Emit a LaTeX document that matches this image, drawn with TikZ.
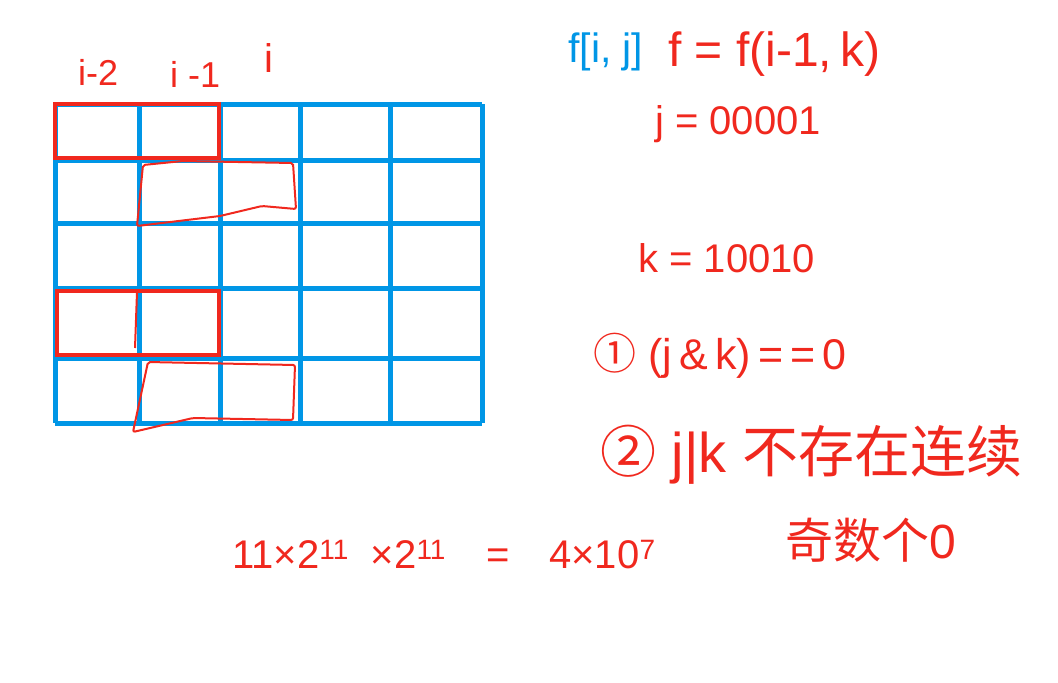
\documentclass[tikz,border=0pt]{standalone}
\usepackage{fontspec}
\setmainfont{Liberation Sans}
\newfontfamily\cjk{Noto Sans CJK SC}
\definecolor{gridblue}{RGB}{0,150,230}
\definecolor{penred}{RGB}{240,40,30}
\usetikzlibrary{positioning}

\begin{document}
\begin{tikzpicture}[x=1pt, y=-1pt,
    gridline/.style={gridblue, line width=5pt},
    boxred/.style={penred, line width=4.5pt},
    freehand/.style={penred, line width=2pt, rounded corners=2pt},
    hand/.style={penred, inner sep=0pt, anchor=west}]
    \useasboundingbox (0,0) rectangle (1058,683);
    \foreach \x in {55,139,220,300,390,482}
      \draw[gridline] (\x,104) -- (\x,423);
    \foreach \y in {104,160,223,288,358,423}
      \draw[gridline] (55,\y) -- (482,\y);
    \draw[boxred] (55,104) rectangle (219,158);
    \draw[boxred] (57,291) rectangle (219,355);
    \draw[freehand] (143,165) -- (183,161) -- (293,163) -- (296,209) -- (262,206) -- (220,216) -- (137,226) -- cycle;
    \draw[freehand] (137,292) -- (135,348);
    \draw[freehand] (148,362) -- (295,365) -- (293,420) -- (193,418) -- (133,432) -- cycle;
    \node[hand, font=\fontsize{36}{38}\selectfont] (im2) at (78,72) {i-2};
    \node[hand, font=\fontsize{36}{38}\selectfont] (im1) at (170,74) {i -1};
    \node[hand, font=\fontsize{40}{42}\selectfont] (ii) at (264,58) {i};
    \node[gridblue, inner sep=0pt, anchor=west, font=\fontsize{41}{43}\selectfont] (fij) at (568,52) {f[i, j]};
    \node[hand, font=\fontsize{48}{50}\selectfont] (rec) at (668,54) {f = f(i-1,\,k)};
    \node[hand, font=\fontsize{40}{42}\selectfont] (jval) at (655,124) {j = 00001};
    \node[hand, font=\fontsize{40}{42}\selectfont] (kval) at (638,258) {k = 10010};
    \node[hand, font=\fontsize{43}{45}\selectfont] (cond1) at (593,356) {{\cjk ①} (j\,\&\,k)\,=\,=\,0};
    \node[hand, font=\fontsize{56}{58}\selectfont] (cond2) at (600,455) {{\cjk ②} j|k {\cjk 不存在连续}};
    \node[hand, font=\fontsize{48}{50}\selectfont] (odd) at (785,540) {{\cjk 奇数个}0};
    \node[hand, font=\fontsize{40}{42}\selectfont] (calc) at (232,555) {11×2\textsuperscript{11}\hspace{22pt}×2\textsuperscript{11}\hspace{40pt}=\hspace{40pt}4×10\textsuperscript{7}};
  \end{tikzpicture}
\end{document}
